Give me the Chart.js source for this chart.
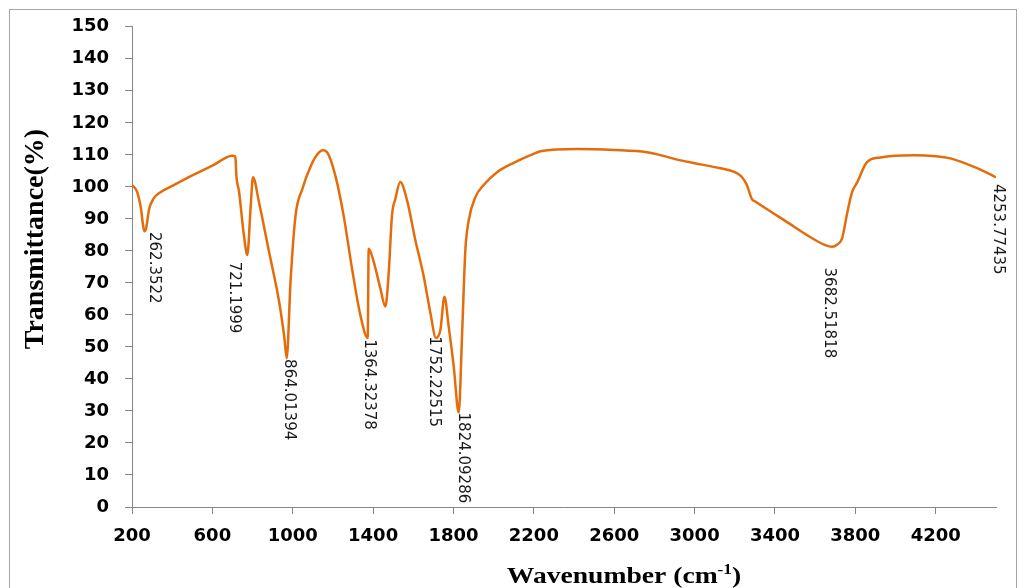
<!DOCTYPE html>
<html>
<head>
<meta charset="utf-8">
<script src="https://cdn.jsdelivr.net/npm/chart.js@4.4.1/dist/chart.umd.min.js"></script>
<style>
  html, body { margin: 0; padding: 0; background: #fff; }
  #wrap { width: 1024px; height: 588px; position: relative; }
</style>
</head>
<body>
<div id="wrap"><canvas id="irCanvas"></canvas></div>
<script>
// FTIR spectrum, values
const wavenumber = [200, 225, 245, 255, 262, 270, 285, 307, 341, 400, 500, 600, 699, 712, 716, 719, 733, 757, 774, 790, 802, 832, 882, 932, 958, 970, 989, 1014, 1048, 1090, 1121, 1150, 1171, 1212, 1253, 1295, 1336, 1373, 1378, 1403, 1436, 1461, 1477, 1494, 1511, 1535, 1569, 1610, 1652, 1685, 1713, 1735, 1755, 1776, 1801, 1826, 1843, 1859, 1876, 1909, 1950, 2017, 2100, 2183, 2233, 2415, 2600, 2763, 2850, 2913, 3000, 3128, 3200, 3228, 3250, 3261, 3286, 3300, 3460, 3600, 3650, 3684, 3710, 3734, 3760, 3784, 3809, 3858, 3925, 4090, 4200, 4273, 4400, 4500];
const transmittance = [100.6, 98.5, 93, 88, 86.1, 87, 93, 96.3, 98.3, 100.3, 103.6, 106.6, 109.7, 109.6, 108.2, 104, 98.4, 84.9, 78.7, 93.2, 103, 95.2, 79.7, 64.2, 53, 46.5, 70.4, 91.1, 99.4, 106.5, 110, 111.4, 110.8, 103.5, 91.1, 74.5, 60.1, 52.8, 80.7, 76.6, 68.3, 62.6, 72.5, 91.1, 96.3, 101.5, 95.8, 83.4, 72, 60.6, 52.8, 55.4, 65.7, 56.4, 44, 29.5, 54.3, 80.2, 89.6, 96.8, 100.6, 104.6, 107.5, 109.9, 111.1, 111.8, 111.5, 110.8, 109.6, 108.5, 107.4, 105.8, 104.6, 103.5, 101.8, 100.4, 96.1, 95.5, 89, 83.4, 81.8, 81.3, 82, 83.9, 92, 98.4, 101.4, 107.7, 109.2, 109.9, 109.6, 108.9, 106, 103];

const xTickValues = [200, 600, 1000, 1400, 1800, 2200, 2600, 3000, 3400, 3800, 4200];

// peak labels and where each one starts (data units)
const peakLabels = ["262.3522", "721.1999", "864.01394", "1364.32378", "1752.22515", "1824.09286", "3682.51818", "4253.77435"];
const labelX = [291, 689, 963, 1361, 1681, 1826, 3651, 4489];
const labelY = [85.9, 76.6, 46.2, 52.4, 53.3, 29.5, 74.8, 100.9];

const axisGray = "#868686";
const tickFont = { family: "DejaVu Sans", weight: "bold", size: 18 };

const frameAndTitles = {
    id: "frameAndTitles",
    beforeDraw(chart) {
        const ctx = chart.ctx;
        ctx.save();
        ctx.fillStyle = "#fff";
        ctx.fillRect(0, 0, chart.width, chart.height);
        ctx.strokeStyle = "#a6a6a6";
        ctx.lineWidth = 1;
        ctx.strokeRect(9.5, 9.5, 1007, 620);
        ctx.restore();
    },
    afterDraw(chart) {
        const ctx = chart.ctx;
        ctx.save();
        ctx.fillStyle = "#000";

        // y title
        ctx.save();
        ctx.translate(36, 239);
        ctx.rotate(-Math.PI / 2);
        ctx.font = "bold 28px 'Liberation Serif'";
        ctx.textAlign = "center";
        ctx.textBaseline = "middle";
        ctx.fillText("Transmittance(%)", 0, 0);
        ctx.restore();

        // x title with superscript
        ctx.save();
        const big = "bold 24px 'Liberation Serif'";
        const small = "bold 15px 'Liberation Serif'";
        ctx.font = big;
        const a = "Wavenumber (cm", c = ")";
        const wa = ctx.measureText(a).width, wc = ctx.measureText(c).width;
        ctx.font = small;
        const b = "-1";
        const wb = ctx.measureText(b).width;
        const total = wa + wb + wc;
        ctx.translate(624, 583);
        ctx.scale(1.15, 1);
        const x0 = -total / 2;
        ctx.textBaseline = "alphabetic";
        ctx.font = big;
        ctx.fillText(a, x0, 0);
        ctx.font = small;
        ctx.fillText(b, x0 + wa, -9);
        ctx.font = big;
        ctx.fillText(c, x0 + wa + wb, 0);
        ctx.restore();

        // peak labels
        ctx.font = "15px 'DejaVu Sans'";
        ctx.fillStyle = "#1a1a1a";
        ctx.textAlign = "left";
        ctx.textBaseline = "alphabetic";
        peakLabels.forEach((t, i) => {
            const px = chart.scales.x.getPixelForValue(labelX[i]);
            const py = chart.scales.y.getPixelForValue(labelY[i]);
            ctx.save();
            ctx.translate(px, py);
            ctx.rotate(Math.PI / 2);
            ctx.fillText(t, 0, 0);
            ctx.restore();
        });
        ctx.restore();
    }
};

new Chart(document.getElementById("irCanvas"), {
    type: "line",
    data: {
        datasets: [{
            data: wavenumber.map((w, i) => ({ x: w, y: transmittance[i] })),
            borderColor: "#E46C0A",
            borderWidth: 2.5,
            pointRadius: 0,
            fill: false,
            cubicInterpolationMode: "monotone"
        }]
    },
    options: {
        responsive: true,
        maintainAspectRatio: false,
        animation: false,
        layout: { padding: { left: 0, right: 28, top: 24, bottom: 0 } },
        plugins: { legend: { display: false }, tooltip: { enabled: false } },
        scales: {
            x: {
                type: "linear",
                min: 200,
                max: 4500,
                afterBuildTicks: s => { s.ticks = xTickValues.map(v => ({ value: v })); },
                afterFit: s => { s.height = 81; },
                ticks: { color: "#000", font: tickFont, padding: 12, maxRotation: 0, autoSkip: false,
                         callback: v => String(v) },
                grid: { drawOnChartArea: false, tickLength: 7, color: axisGray },
                border: { color: axisGray, width: 1 }
            },
            y: {
                min: 0,
                max: 150,
                afterFit: s => { s.width = 132; },
                ticks: { stepSize: 10, color: "#000", font: tickFont, padding: 16 },
                grid: { drawOnChartArea: false, tickLength: 7, color: axisGray },
                border: { color: axisGray, width: 1 }
            }
        }
    },
    plugins: [frameAndTitles]
});
</script>
</body>
</html>
